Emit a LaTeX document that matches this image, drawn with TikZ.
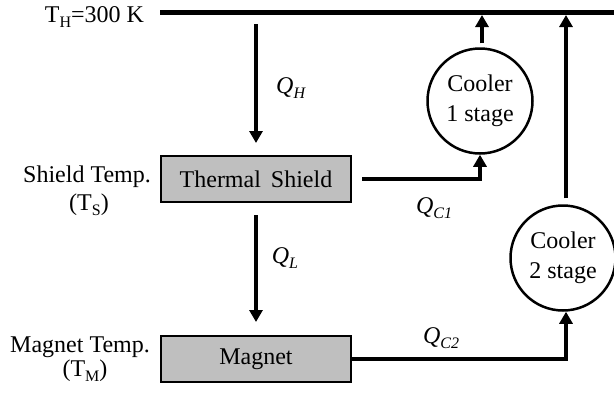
\documentclass[tikz,border=0pt]{standalone}
\usepackage{fontspec}
\setmainfont{Liberation Serif}
\usetikzlibrary{arrows.meta}
\definecolor{boxgray}{RGB}{191,191,191}
\newcommand\mysub[1]{\raisebox{-5pt}{\fontsize{16}{16}\selectfont #1}}
\begin{document}
\begin{tikzpicture}[x=1pt,y=-1pt,
  every node/.style={font=\fontsize{24}{30}\selectfont, inner sep=0pt},
  blk/.style={draw, line width=2pt, fill=boxgray, minimum width=190pt, minimum height=46pt},
  cooler/.style={draw, circle, line width=2.5pt, minimum size=105pt, align=center},
  flow/.style={line width=4.5pt, -{Triangle[width=13pt,length=12pt]}},
  plainflow/.style={line width=4.5pt},
  bar/.style={line width=5pt}]
\useasboundingbox (0,0) rectangle (614,394);

% top bar (hot reservoir)
\coordinate (barL) at (160,12.5);
\coordinate (barR) at (614,12.5);
\draw[bar] (barL) -- (barR);

% blocks
\node[blk] (shield) at (256,179) {Thermal\hspace{10pt}Shield};
\node[blk] (magnet) at (256,359) {Magnet};
\node[cooler] (c1) at (480,101) {Cooler\\1 stage};
\node[cooler] (c2) at (563,258) {Cooler\\2 stage};

% left labels
\node[anchor=base] (th) at (94.5,22) {T\mysub{H}=300 K};
\node[anchor=base] (st1) at (87,182) {Shield Temp.};
\node[anchor=base] (st2) at (89,210) {(T\mysub{S})};
\node[anchor=base] (mt1) at (80,352) {Magnet Temp.};
\node[anchor=base] (mt2) at (85,376) {(T\mysub{M})};

% heat flows
\coordinate (qhtop) at (256,24);
\draw[flow] (qhtop) -- ([yshift=12pt]shield.north);
\draw[flow] ([yshift=-12pt]shield.south) -- ([yshift=13pt]magnet.north);
\draw[flow] ([xshift=10pt]shield.east) -| (c1.south);
\draw[flow] ([yshift=4pt,xshift=2pt]c1.north) -- ([xshift=2pt,yshift=-2.5pt]c1.north |- barL);
\draw[flow] (magnet.east) -| ([xshift=3pt]c2.south);
\draw[flow] ([yshift=6pt,xshift=3pt]c2.north) -- ([xshift=3pt,yshift=-2.5pt]c2.north |- barL);

% flow labels
\node (qh) at (291,88) {\textit{Q}\mysub{\textit{H}}};
\node (ql) at (285,258) {\textit{Q}\mysub{\textit{L}}};
\node (qc1) at (434,208) {\textit{Q}\mysub{\textit{C1}}};
\node (qc2) at (441,338) {\textit{Q}\mysub{\textit{C2}}};
\end{tikzpicture}
\end{document}
